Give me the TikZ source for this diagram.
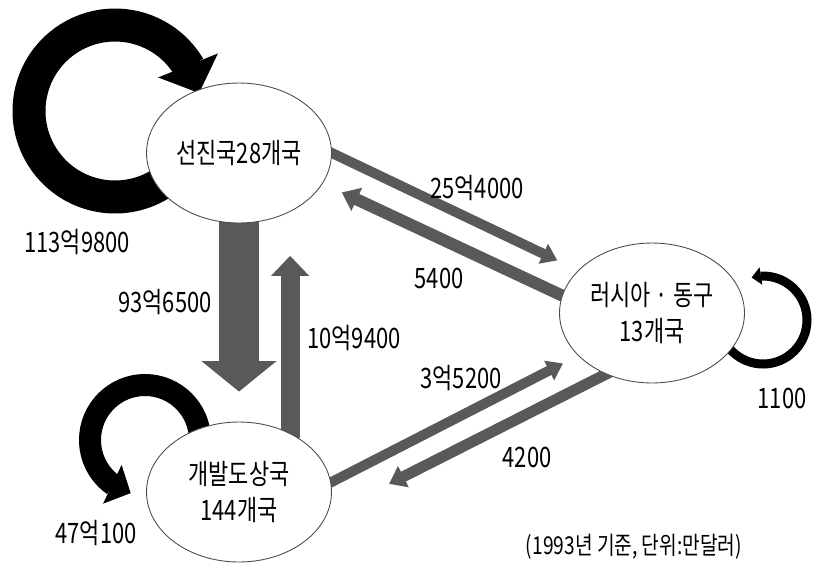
\documentclass[tikz,border=0pt]{standalone}
\usepackage{fontspec}
\newfontfamily\kr[FakeStretch=0.78]{Noto Sans CJK KR}
\usetikzlibrary{arrows.meta,shapes.geometric,calc,backgrounds,bending}

\begin{document}
\begin{tikzpicture}[
    x=0.02cm, y=0.02cm,
    font=\kr\fontsize{16}{19}\selectfont,
    region/.style={draw=black!70, line width=0.5pt, fill=white, ellipse,
                   minimum width=3.7cm, minimum height=2.8cm,
                   align=center, inner sep=0pt,
                   font=\kr\fontsize{16}{20}\selectfont},
    tradearr/.style={-{Triangle[length=6pt 0.5, width=2pt 1.75]},
                     black!65, line width=#1, shorten <=-0.1cm},
    selfarr/.style={-{Triangle[length=1pt 0.85, width=0pt 1.9]},
                    black, line width=#1}
  ]
    \useasboundingbox (0,0) rectangle (815,-565);

    \node[region] (AD) at (239,-153) {선진국28개국};
    \node[region] (RU) at (652,-313) {러시아 · 동구\\13개국};
    \node[region] (DV) at (239,-492) {개발도상국\\144개국};

    \coordinate (ADc) at ($(AD)+(-124,42)$);
    \coordinate (DVc) at ($(DV)+(-94,52)$);
    \coordinate (RUc) at ($(RU)+(111,-7)$);

    \begin{scope}[on background layer]
      % flows between the groups
      \draw[tradearr=0.8cm, shorten >=0.6cm] (AD.south) -- (DV.north);
      \draw[tradearr=0.38cm, shorten >=0.88cm] (DV.49) -- (AD.-49);
      \draw[tradearr=0.2cm, shorten >=0.46cm] (AD.east) -- (RU.150);
      \draw[tradearr=0.24cm, shorten >=0.42cm] (RU.169) -- (AD.-20);
      \draw[tradearr=0.2cm, shorten >=0.34cm] (DV.6) -- (RU.210);
      \draw[tradearr=0.22cm, shorten >=1.4cm] (RU.233) -- (DV.-15);
      % trade inside each group
      \draw[selfarr=0.66cm] ($(ADc)+(-55:86)$)
        arc[start angle=-55, end angle=-348, radius=86];
      \draw[selfarr=0.44cm] ($(DVc)+(0:55)$)
        arc[start angle=0, end angle=255, radius=55];
      \draw[selfarr=0.18cm] ($(RUc)+(-140:44)$)
        arc[start angle=-140, end angle=105, radius=44];
    \end{scope}

    \node (vAA) at (77,-242)  {113억9800};
    \node (vAD) at (165,-302) {93억6500};
    \node (vDA) at (354,-338) {10억9400};
    \node (vAR) at (477,-188) {25억4000};
    \node (vRA) at (439,-278) {5400};
    \node (vDR) at (461,-378) {3억5200};
    \node (vRD) at (527,-457) {4200};
    \node (vRR) at (782,-398) {1100};
    \node (vDD) at (96,-533)  {47억100};
    \node[font=\kr\fontsize{14}{16}\selectfont] (note) at (634,-547)
      {(1993년 기준, 단위:만달러)};
\end{tikzpicture}
\end{document}
